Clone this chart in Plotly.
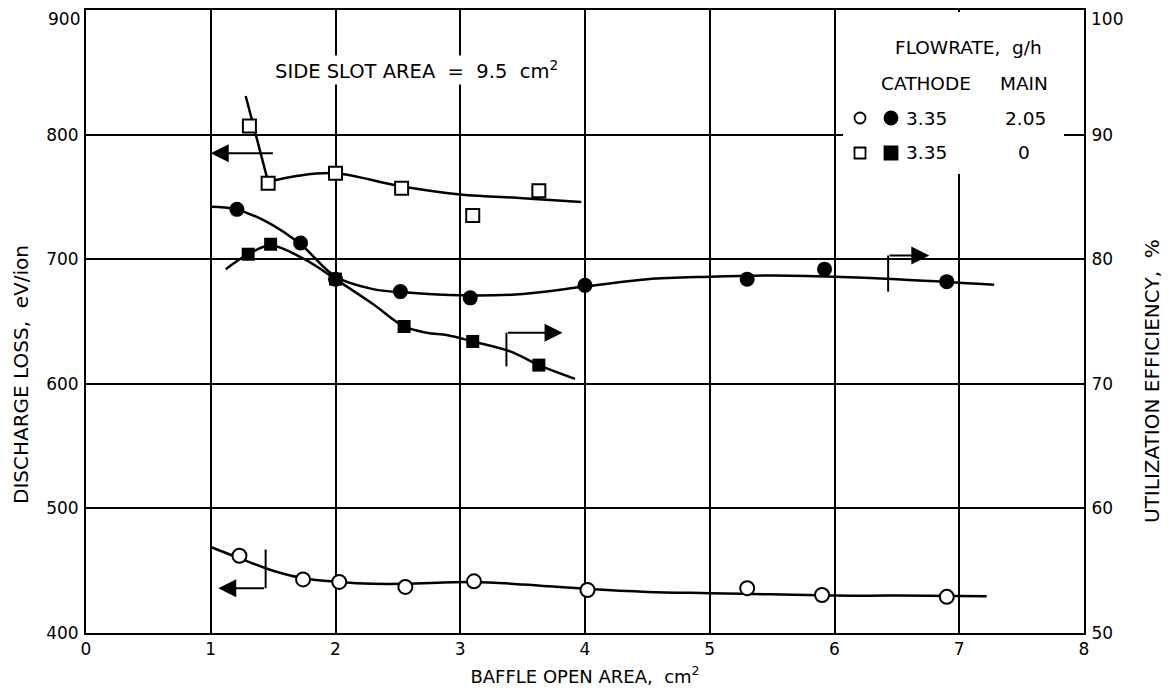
import plotly.graph_objects as go

# ---- data ----
# Open circles: discharge loss (left axis), cathode 3.35, main 2.05
oc_x = [1.23, 1.74, 2.03, 2.56, 3.11, 4.02, 5.30, 5.90, 6.90]
oc_y = [462, 443, 441, 437, 441.5, 434.5, 436, 430.5, 429]
oc_fit_x = [1.0, 1.23, 1.5, 1.74, 2.03, 2.3, 2.56, 3.1, 3.5, 4.0, 4.5, 5.0, 5.5, 6.0, 6.5, 7.22]
oc_fit_y = [469, 460, 450, 444, 441, 439.5, 439.5, 441, 439, 435.5, 433, 432, 431, 430, 430, 429.5]

# Filled circles: utilization efficiency (right axis), cathode 3.35, main 2.05
fc_x = [1.21, 1.72, 2.00, 2.52, 3.08, 4.00, 5.30, 5.92, 6.90]
fc_y = [84.0, 81.3, 78.4, 77.4, 76.9, 77.9, 78.4, 79.2, 78.2]
fc_fit_x = [1.0, 1.2, 1.45, 1.72, 2.0, 2.3, 2.6, 3.0, 3.5, 4.0, 4.5, 5.0, 5.5, 6.0, 6.5, 7.28]
fc_fit_y = [84.2, 84.0, 83.0, 81.2, 78.6, 77.6, 77.3, 77.1, 77.2, 77.8, 78.4, 78.6, 78.7, 78.6, 78.4, 77.95]

# Open squares: discharge loss (left axis), cathode 3.35, main 0
os_x = [1.31, 1.46, 2.00, 2.53, 3.10, 3.63]
os_y = [807, 761, 769, 757, 735, 755]
os_steep_x = [1.28, 1.46]
os_steep_y = [831, 762]
os_fit_x = [1.46, 1.7, 2.0, 2.5, 3.0, 3.5, 3.97]
os_fit_y = [762, 767, 769, 759, 752, 749, 746]

# Filled squares: utilization efficiency (right axis), cathode 3.35, main 0
fs_x = [1.30, 1.48, 2.00, 2.55, 3.10, 3.63]
fs_y = [80.4, 81.2, 78.4, 74.6, 73.4, 71.5]
fs_fit_x = [1.12, 1.3, 1.48, 1.75, 2.0, 2.3, 2.55, 2.73, 2.9, 3.1, 3.4, 3.63, 3.92]
fs_fit_y = [79.2, 80.4, 81.1, 80.0, 78.4, 76.4, 74.6, 74.1, 73.9, 73.4, 72.6, 71.5, 70.4]

x_ticks = [0, 1, 2, 3, 4, 5, 6, 7, 8]
left_ticks = [400, 500, 600, 700, 800, 900]
right_ticks = [50, 60, 70, 80, 90, 100]

FONT = "DejaVu Sans"
W, H = 1171, 695
OFF = 8  # page body offset
# plot area in page pixels
PL, PR, PT, PB = 86, 1084, 10, 633
PW, PH = PR - PL, PB - PT


def px(xp):
    return (xp - PL) / PW


def py(yp):
    return (PB - yp) / PH


fig = go.Figure()
line = dict(color="black", width=2.5)

fig.add_trace(go.Scatter(x=oc_fit_x, y=oc_fit_y, mode="lines", line=dict(shape="spline", **line)))
fig.add_trace(go.Scatter(x=os_steep_x, y=os_steep_y, mode="lines", line=line))
fig.add_trace(go.Scatter(x=os_fit_x, y=os_fit_y, mode="lines", line=dict(shape="spline", **line)))
fig.add_trace(go.Scatter(x=fc_fit_x, y=fc_fit_y, mode="lines", yaxis="y2", line=dict(shape="spline", **line)))
fig.add_trace(go.Scatter(x=fs_fit_x, y=fs_fit_y, mode="lines", yaxis="y2", line=dict(shape="spline", **line)))

fig.add_trace(go.Scatter(x=oc_x, y=oc_y, mode="markers",
                         marker=dict(symbol="circle", size=14, color="white", line=dict(color="black", width=2))))
fig.add_trace(go.Scatter(x=os_x, y=os_y, mode="markers",
                         marker=dict(symbol="square", size=13, color="white", line=dict(color="black", width=2))))
fig.add_trace(go.Scatter(x=fc_x, y=fc_y, mode="markers", yaxis="y2",
                         marker=dict(symbol="circle", size=15, color="black")))
fig.add_trace(go.Scatter(x=fs_x, y=fs_y, mode="markers", yaxis="y2",
                         marker=dict(symbol="square", size=13, color="black")))

shapes = []
annotations = []
arrow = dict(showarrow=True, arrowhead=2, arrowsize=1.8, arrowwidth=2, arrowcolor="black", text="")

# brackets with arrows
shapes.append(dict(type="line", xref="x", yref="y", x0=1.44, x1=1.44, y0=467, y1=436, line=dict(color="black", width=2)))
annotations.append(dict(x=1.06, y=436, xref="x", yref="y", ax=1.44, ay=436, axref="x", ayref="y", **arrow))
annotations.append(dict(x=1.0, y=785, xref="x", yref="y", ax=1.51, ay=785, axref="x", ayref="y", **arrow))
shapes.append(dict(type="line", xref="x", yref="y2", x0=6.43, x1=6.43, y0=77.4, y1=80.3, line=dict(color="black", width=2)))
annotations.append(dict(x=6.76, y=80.3, xref="x", yref="y2", ax=6.43, ay=80.3, axref="x", ayref="y2", **arrow))
shapes.append(dict(type="line", xref="x", yref="y2", x0=3.37, x1=3.37, y0=71.4, y1=74.1, line=dict(color="black", width=2)))
annotations.append(dict(x=3.82, y=74.1, xref="x", yref="y2", ax=3.37, ay=74.1, axref="x", ayref="y2", **arrow))

# legend box (white background covering grid)
shapes.append(dict(type="rect", xref="paper", yref="paper", x0=px(843), x1=px(1064), y0=py(174), y1=py(12),
                   fillcolor="white", line=dict(width=0), layer="above"))


def txt(s, x, y, size=18.5, **kw):
    annotations.append(dict(text=s, x=px(x), y=py(y), xref="paper", yref="paper", showarrow=False,
                            xanchor="center", yanchor="middle",
                            font=dict(family=FONT, size=size, color="black"), **kw))


txt("FLOWRATE,  g/h", 968, 47)
txt("CATHODE", 926, 83)
txt("MAIN", 1024, 83)
txt("3.35", 926, 118)
txt("2.05", 1025, 118)
txt("3.35", 926, 153)
txt("0", 1024, 153)


# legend symbols
def sym(kind, cx, cy, r, filled):
    shapes.append(dict(type=kind, xref="paper", yref="paper",
                       x0=px(cx - r), x1=px(cx + r), y0=py(cy + r), y1=py(cy - r),
                       fillcolor="black" if filled else "white",
                       line=dict(color="black", width=1.8), layer="above"))


sym("circle", 860, 118, 5.5, False)
sym("circle", 891, 118, 6.5, True)
sym("rect", 860, 153, 5.5, False)
sym("rect", 891, 153, 6.5, True)

txt("SIDE SLOT AREA  =  9.5  cm<sup>2</sup>", 416, 70, size=19.5, bgcolor="white")

# axis titles
txt("DISCHARGE LOSS,  eV/ion", 21, 375, size=20, textangle=-90)
txt("UTILIZATION EFFICIENCY,  %", 1152, 381, size=20, textangle=-90)

tickfont = dict(family=FONT, size=17, color="black")

# top tick labels sit a little below their gridline in the reference
annotations.append(dict(text=str(left_ticks[-1]), x=0, y=left_ticks[-1], xref="paper", yref="y",
                        xanchor="right", yanchor="middle", xshift=-4, yshift=-9, showarrow=False, font=tickfont))
annotations.append(dict(text=str(right_ticks[-1]), x=1, y=right_ticks[-1], xref="paper", yref="y2",
                        xanchor="left", yanchor="middle", xshift=5, yshift=-9, showarrow=False, font=tickfont))

axis_common = dict(showline=True, linecolor="black", linewidth=2, ticks="", zeroline=False, automargin=False,
                   tickfont=tickfont)

fig.update_layout(
    width=W, height=H,
    margin=dict(l=PL - OFF, r=W - (PR - OFF), t=PT - OFF, b=H - (PB - OFF)),
    paper_bgcolor="white", plot_bgcolor="white", showlegend=False,
    xaxis=dict(range=[0, 8], tickvals=x_ticks, showgrid=True, gridcolor="black", gridwidth=1.5, mirror=True,
               title=dict(text="BAFFLE OPEN AREA,  cm<sup>2</sup>", font=dict(family=FONT, size=18, color="black"),
                          standoff=12),
               **axis_common),
    yaxis=dict(range=[400, 900], tickvals=left_ticks,
               ticktext=[str(v) for v in left_ticks[:-1]] + [""],
               showgrid=True, gridcolor="black", gridwidth=1.5, mirror=True,
               ticklabelstandoff=2, **axis_common),
    yaxis2=dict(range=[50, 100], tickvals=right_ticks,
                ticktext=[str(v) for v in right_ticks[:-1]] + [""],
                overlaying="y", side="right", showgrid=False,
                ticklabelstandoff=2, **axis_common),
    shapes=shapes, annotations=annotations,
)

fig.write_html("out.html")
